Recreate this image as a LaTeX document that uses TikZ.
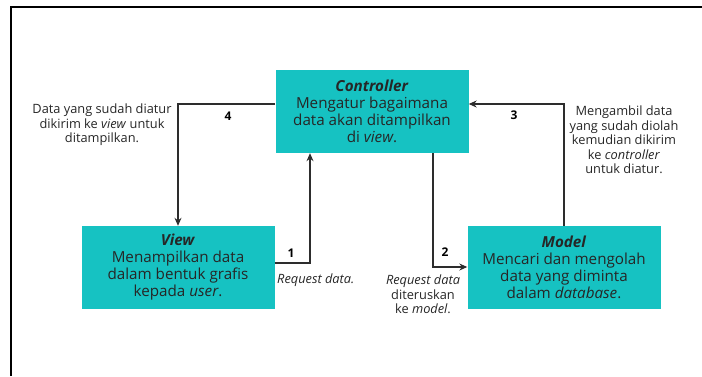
\documentclass[tikz,border=0pt]{standalone}
\usepackage{fontspec}
\setmainfont{Open Sans}
\usepackage{xcolor}
\usetikzlibrary{calc,arrows.meta}

\definecolor{boxteal}{RGB}{22,194,194}
\definecolor{linegray}{RGB}{45,45,45}

\tikzset{
    mvcbox/.style={fill=boxteal, text=black!85, minimum width=193pt, minimum height=83pt,
        align=center, inner sep=0pt, font=\fontsize{15.2}{17}\selectfont},
    flow/.style={draw=linegray, line width=1.1pt, -{Stealth[length=8pt,width=7pt]}},
    stepno/.style={font=\fontsize{12}{13}\selectfont\bfseries, text=black},
    note/.style={align=center, text=black!85, inner sep=0pt, font=\fontsize{12.8}{14.6}\selectfont}
}

\begin{document}
\begin{tikzpicture}[x=1pt,y=-1pt]
    \useasboundingbox (0,0) rectangle (702,376);
    % frame
    \draw[line width=2pt] (11,376) -- (11,7) -- (702,7);

    % the three parts
    \node[mvcbox] (ctrl) at (372,111.5) {\textbf{\textit{Controller}}\\Mengatur bagaimana\\data akan ditampilkan\\di \textit{view}.};
    \node[mvcbox] (view) at (178,267.5) {\textbf{\textit{View}}\\Menampilkan data\\dalam bentuk grafis\\kepada \textit{user}.};
    \node[mvcbox] (model) at (564,267.5) {\textbf{\textit{Model}}\\Mencari dan mengolah\\data yang diminta\\dalam \textit{database}.};

    % connectors
    \draw[flow] (view.east |- 0,263) -| (ctrl.south -| 310,0);
    \draw[flow] (ctrl.south -| 433,0) |- (model.west |- 0,267);
    \draw[flow] (model.north) |- (ctrl.east |- 0,104);
    \draw[flow] (ctrl.west |- 0,104) -| (view.north);

    % step numbers
    \node[stepno] (n1) at (291,253) {1};
    \node[stepno] (n2) at (445,252) {2};
    \node[stepno] (n3) at (514,115) {3};
    \node[stepno] (n4) at (228,116) {4};

    % notes
    \node[note] (t4) at (102,125) {Data yang sudah diatur\\dikirim ke \textit{view} untuk\\ditampilkan.};
    \node[note] (t3) at (624,140) {Mengambil data\\yang sudah diolah\\kemudian dikirim\\ke \textit{controller}\\untuk diatur.};
    \node[note, anchor=west] (t1) at (277,280) {\textit{Request data.}};
    \node[note] (t2) at (423,294.5) {\textit{Request data}\\diteruskan\\ke \textit{model}.};
\end{tikzpicture}
\end{document}
